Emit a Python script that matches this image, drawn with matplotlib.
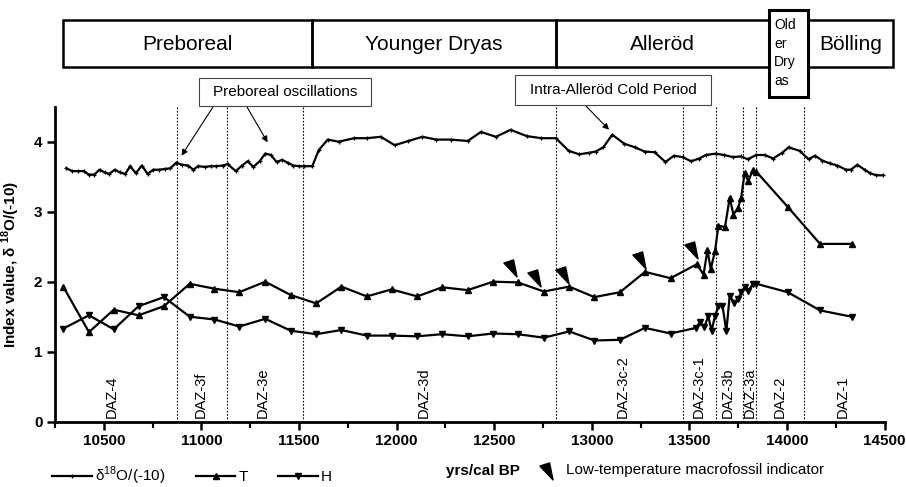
import numpy as np
import matplotlib.pyplot as plt
from matplotlib.patches import Rectangle
from matplotlib.path import Path
from matplotlib.lines import Line2D
from matplotlib.transforms import blended_transform_factory

plt.rcParams['font.family'] = ['Liberation Sans', 'DejaVu Sans']
plt.rcParams['mathtext.fontset'] = 'custom'
plt.rcParams['mathtext.rm'] = 'Liberation Sans'
plt.rcParams['mathtext.bf'] = 'Liberation Sans:bold'

# delta 18O / (-10)
d18o_yr = [10308, 10339, 10368, 10396, 10424, 10451, 10478, 10505, 10528, 10556,
           10584, 10610, 10635, 10664, 10695, 10724, 10754, 10783, 10812, 10841,
           10871, 10902, 10932, 10958, 10983, 11017, 11047, 11076, 11108, 11134,
           11176, 11208, 11237, 11266, 11298, 11327, 11356, 11385, 11413, 11442,
           11471, 11500, 11528, 11568, 11601, 11647, 11703, 11782, 11847, 11919,
           11990, 12060, 12132, 12204, 12279, 12364, 12432, 12508, 12584, 12666,
           12742, 12816, 12881, 12935, 12983, 13020, 13059, 13104, 13167, 13220,
           13270, 13321, 13377, 13420, 13465, 13508, 13550, 13584, 13635, 13677,
           13723, 13762, 13799, 13842, 13886, 13928, 13974, 14008, 14064, 14110,
           14143, 14181, 14219, 14258, 14301, 14326, 14360, 14397, 14426, 14457,
           14491]
d18o = [3.62, 3.58, 3.58, 3.58, 3.53, 3.53, 3.60, 3.56, 3.54, 3.60,
        3.56, 3.54, 3.65, 3.55, 3.66, 3.54, 3.60, 3.60, 3.61, 3.62,
        3.70, 3.67, 3.66, 3.60, 3.65, 3.64, 3.65, 3.65, 3.66, 3.68,
        3.58, 3.66, 3.72, 3.64, 3.72, 3.83, 3.81, 3.71, 3.74, 3.70,
        3.66, 3.65, 3.65, 3.65, 3.88, 4.03, 4.00, 4.05, 4.05, 4.07,
        3.95, 4.01, 4.07, 4.03, 4.03, 4.01, 4.14, 4.07, 4.17, 4.08,
        4.05, 4.05, 3.87, 3.82, 3.84, 3.86, 3.92, 4.10, 3.97, 3.92,
        3.86, 3.85, 3.71, 3.80, 3.78, 3.72, 3.76, 3.81, 3.83, 3.81,
        3.78, 3.79, 3.75, 3.81, 3.81, 3.76, 3.84, 3.92, 3.87, 3.75,
        3.80, 3.73, 3.69, 3.66, 3.60, 3.60, 3.67, 3.60, 3.55, 3.52,
        3.52]

# T index
t_yr = [10292, 10424, 10551, 10678, 10808, 10940, 11067, 11194, 11327, 11457,
        11588, 11717, 11847, 11974, 12106, 12233, 12364, 12494, 12621, 12754,
        12884, 13013, 13144, 13272, 13403, 13538, 13572, 13592, 13609, 13631,
        13648, 13682, 13706, 13725, 13748, 13765, 13782, 13801, 13826, 13843,
        14003, 14169, 14330]
t_val = [1.93, 1.28, 1.60, 1.52, 1.65, 1.97, 1.90, 1.85, 2.00, 1.81,
         1.69, 1.93, 1.79, 1.89, 1.79, 1.92, 1.88, 2.00, 1.99, 1.86,
         1.93, 1.78, 1.85, 2.14, 2.05, 2.25, 2.10, 2.45, 2.18, 2.44,
         2.80, 2.78, 3.20, 2.96, 3.05, 3.20, 3.55, 3.44, 3.60, 3.57,
         3.07, 2.54, 2.54]

# H index
h_yr = [10292, 10424, 10551, 10678, 10808, 10940, 11067, 11194, 11327, 11457,
        11588, 11717, 11847, 11974, 12106, 12233, 12364, 12494, 12621, 12754,
        12884, 13013, 13144, 13272, 13403, 13533, 13553, 13576, 13596, 13613,
        13631, 13648, 13669, 13689, 13706, 13729, 13748, 13765, 13784, 13801,
        13826, 13843, 14003, 14169, 14330]
h_val = [1.33, 1.52, 1.32, 1.65, 1.78, 1.50, 1.46, 1.36, 1.47, 1.30,
         1.25, 1.31, 1.23, 1.23, 1.22, 1.25, 1.22, 1.26, 1.25, 1.20,
         1.29, 1.16, 1.17, 1.34, 1.26, 1.34, 1.42, 1.35, 1.51, 1.30,
         1.51, 1.65, 1.66, 1.29, 1.80, 1.70, 1.75, 1.85, 1.93, 1.87,
         1.97, 1.97, 1.85, 1.59, 1.50]

# low-temperature macrofossil indicators
fossil_yr = [12584, 12711, 12850, 13245, 13513]
fossil_val = [2.22, 2.08, 2.13, 2.34, 2.48]

# zone boundaries and labels
zone_lines = [10874, 11132, 11518, 12818, 13469, 13638, 13774, 13843, 14089]
zone_names = ['DAZ-4', 'DAZ-3f', 'DAZ-3e', 'DAZ-3d', 'DAZ-3c-2', 'DAZ-3c-1',
              'DAZ-3b', 'DAZ-3a', 'DAZ-2', 'DAZ-1']
zone_x = [10543, 10996, 11316, 12140, 13156, 13548, 13695, 13807, 13960, 14285]

# chronozones (top boxes)
period_names = ['Preboreal', 'Younger Dryas', 'Alleröd', 'Older\nDryas', 'Bölling']
period_edges = [10293, 11565, 12815, 13905, 14105, 14545]

W, H = 906, 487
fig = plt.figure(figsize=(W / 100, H / 100), dpi=100)
ax = fig.add_axes([55 / W, 1 - 421.7 / H, 829.7 / W, 315 / H])

ax.plot(d18o_yr, d18o, color='black', lw=1.6, marker='+', ms=3.5, mew=0.9,
        label=r'δ$^{\mathrm{18}}$O/(-10)', clip_on=False)
ax.plot(t_yr, t_val, color='black', lw=1.6, marker='^', ms=5,
        label='T', clip_on=False)
ax.plot(h_yr, h_val, color='black', lw=1.6, marker='v', ms=5,
        label='H', clip_on=False)

wedge = Path([(-0.73, 0.33), (0.2, 0.63), (0.53, -1.0), (-0.73, 0.33)],
             [Path.MOVETO, Path.LINETO, Path.LINETO, Path.CLOSEPOLY])
ax.plot(fossil_yr, fossil_val, ls='none', marker=wedge, ms=15, color='black')

for x in zone_lines:
    ax.axvline(x, color='black', lw=0.8, ls=(0, (1.5, 1.5)))
for name, x in zip(zone_names, zone_x):
    ax.text(x, 0.05, name, rotation=90, ha='center', va='bottom', fontsize=10.5)

ax.set_xlim(10288, 14500)
ax.set_ylim(0, 4.5)
ax.set_xticks(np.arange(10500, 14501, 500))
ax.set_xticks(np.arange(10250, 14501, 250), minor=True)
ax.set_yticks([0, 1, 2, 3, 4])
for s in ['top', 'right']:
    ax.spines[s].set_visible(False)
for s in ['left', 'bottom']:
    ax.spines[s].set_linewidth(2)
ax.tick_params(axis='both', which='major', length=6, width=1.8, labelsize=11, pad=3)
ax.tick_params(axis='x', which='minor', length=4, width=1.5)
for lab in ax.get_xticklabels() + ax.get_yticklabels():
    lab.set_fontweight('bold')

ax.set_xlabel('yrs/cal BP', fontsize=11, fontweight='bold')
ax.xaxis.set_label_coords(0.516, -0.135)
ax.set_ylabel(r'Index value, δ $^{\mathbf{18}}$O/(-10)', fontsize=11, fontweight='bold')
ax.yaxis.set_label_coords(-0.04, 0.50)

# chronozone boxes across the top
tr = blended_transform_factory(ax.transData, fig.transFigure)
for i, name in enumerate(period_names):
    x0, x1 = period_edges[i], period_edges[i + 1]
    if 'Older' in name:
        continue
    ax.add_patch(Rectangle((x0, 1 - 67 / H), x1 - x0, 47 / H, transform=tr,
                           fill=False, lw=1.8, ec='black', clip_on=False))
    ax.text((x0 + x1) / 2, 1 - 44 / H, name, transform=tr, ha='center',
            va='center', fontsize=15)
x0, x1 = period_edges[3], period_edges[4]
ax.add_patch(Rectangle((x0, 1 - 97 / H), x1 - x0, 87 / H, transform=tr,
                       fc='white', lw=2.2, ec='black', clip_on=False, zorder=5))
ax.text(x0 + 28, 1 - 53 / H, 'Old\ner\nDry\nas', transform=tr, ha='left',
        va='center', fontsize=10, linespacing=1.45, zorder=6)

# annotation boxes with arrows
fig.add_artist(Rectangle((199 / W, 1 - 106 / H), 172 / W, 28 / H,
                         fill=False, lw=0.8, ec='#444444'))
fig.text(285 / W, 1 - 92 / H, 'Preboreal oscillations', ha='center',
         va='center', fontsize=11)
fig.add_artist(Rectangle((515 / W, 1 - 105 / H), 196 / W, 30 / H,
                         fill=False, lw=0.8, ec='#444444'))
fig.text(613 / W, 1 - 90 / H, 'Intra-Alleröd Cold Period', ha='center',
         va='center', fontsize=11)
arrow = dict(arrowstyle='-|>', lw=0.8, color='black', mutation_scale=9,
             shrinkA=0, shrinkB=0)
ax.annotate('', xy=(10898, 3.80), xytext=(213 / W, 1 - 107 / H),
            textcoords='figure fraction', arrowprops=arrow)
ax.annotate('', xy=(11339, 3.99), xytext=(247 / W, 1 - 107 / H),
            textcoords='figure fraction', arrowprops=arrow)
ax.annotate('', xy=(13088, 4.17), xytext=(586 / W, 1 - 106 / H),
            textcoords='figure fraction', arrowprops=arrow)

# legends
leg = ax.legend(loc='center left', bbox_to_anchor=(52 / W, 1 - 476 / H),
                bbox_transform=fig.transFigure, ncol=3, frameon=False,
                handlelength=2.6, handletextpad=0.2, columnspacing=2.0,
                borderpad=0, borderaxespad=0, fontsize=11)
ax.add_artist(leg)
fossil_handle = Line2D([], [], ls='none', marker=wedge, ms=15, color='black')
ax.legend([fossil_handle], ['Low-temperature macrofossil indicator'],
          loc='center left', bbox_to_anchor=(538 / W, 1 - 470 / H),
          bbox_transform=fig.transFigure, frameon=False, handlelength=1.2,
          handletextpad=0.6, borderpad=0, borderaxespad=0, fontsize=11)

fig.savefig('out.png', dpi=100)
